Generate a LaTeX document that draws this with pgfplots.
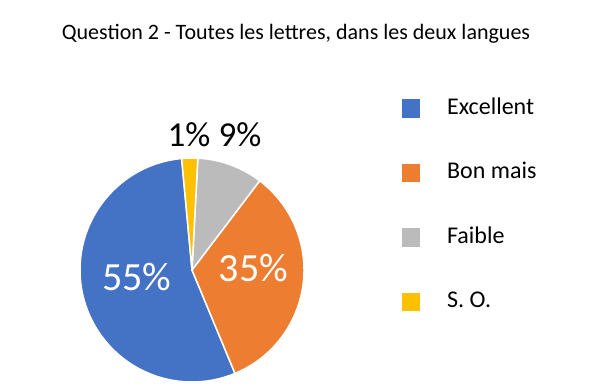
\documentclass[border=0pt]{standalone}
\usepackage{fontspec}
\setmainfont{Carlito}
\usepackage{pgfplots}
\usepackage{pgfplotstable}
\pgfplotsset{compat=1.18}
\definecolor{pieblue}{HTML}{4472C4}
\definecolor{pieorange}{HTML}{ED7D31}
\definecolor{piegray}{HTML}{BBBBBB}
\definecolor{pieyellow}{HTML}{FFC000}

% value (percent of the circle), colour
\pgfplotstableread{
value col
54.8 pieblue
33.4 pieorange
9.5 piegray
2.3 pieyellow
}\piedata

\begin{document}
\begin{tikzpicture}
\begin{axis}[
  x=1bp, y=1bp, scale only axis,
  xmin=0, xmax=600, ymin=0, ymax=389,
  hide axis, clip=false,
  legend cell align=left,
  legend image code/.code={\fill[#1] (0bp,-8.75bp) rectangle (17.5bp,8.75bp);},
  legend style={at={(axis cs:401.7,292)}, anchor=north west, draw=none, fill=none,
    inner sep=0pt, outer sep=0pt, row sep=42.5bp,
    font=\fontsize{24bp}{26bp}\selectfont,
    nodes={inner sep=0pt, text height=17bp, text depth=5bp},
    /tikz/every odd column/.style={column sep=27.5bp}},
]
\path (axis cs:0,0) rectangle (axis cs:600,389);
\addlegendimage{pieblue}\addlegendentry{Excellent}
\addlegendimage{pieorange}\addlegendentry{Bon mais}
\addlegendimage{piegray}\addlegendentry{Faible}
\addlegendimage{pieyellow}\addlegendentry{S. O.}
\xdef\cum{95.3}
\foreach \i in {0,...,3}{
  \pgfplotstablegetelem{\i}{value}\of\piedata \let\v\pgfplotsretval
  \pgfplotstablegetelem{\i}{col}\of\piedata \let\c\pgfplotsretval
  \pgfmathsetmacro\ea{\cum+3.6*\v}
  \edef\doit{\noexpand\fill[\c, draw=white, line width=1.5bp, line join=round]
    (axis cs:192,119) -- ([shift={(\cum:112bp)}]axis cs:192,119)
    arc[start angle=\cum, end angle=\ea, radius=112bp] -- cycle;}
  \doit
  \xdef\cum{\ea}
}
\node[anchor=base, text=white, font=\fontsize{40bp}{42bp}\selectfont] at (axis cs:136.7,99) {55\%};
\node[anchor=base, text=white, font=\fontsize{40bp}{42bp}\selectfont] at (axis cs:253.3,107.3) {35\%};
\node[anchor=base, font=\fontsize{35bp}{37bp}\selectfont] at (axis cs:189,243) {1\%};
\node[anchor=base, font=\fontsize{35bp}{37bp}\selectfont] at (axis cs:240,243) {9\%};
\node[anchor=base, font=\fontsize{22bp}{24bp}\selectfont] at (axis cs:296,350) {Question 2 - Toutes les lettres, dans les deux langues};
\end{axis}
\end{tikzpicture}
\end{document}
